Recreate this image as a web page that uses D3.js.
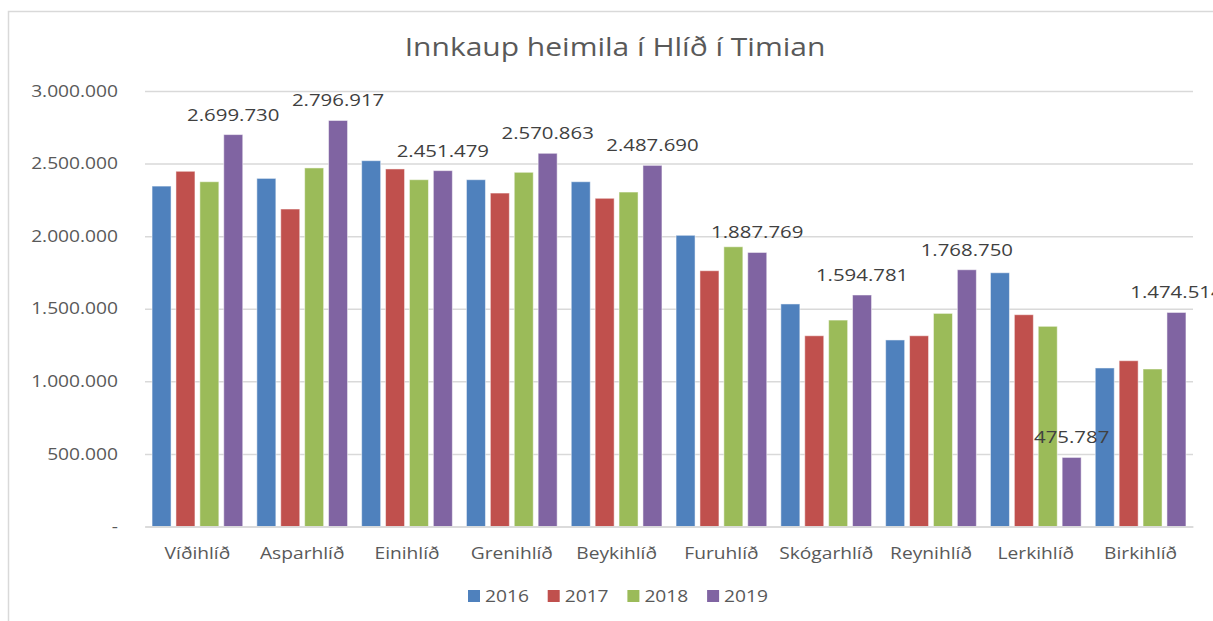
<!DOCTYPE html>
<html>
<head>
<meta charset="utf-8">
<script src="https://cdn.jsdelivr.net/npm/d3@7"></script>
<style>
  html, body { margin: 0; padding: 0; background: #fff; }
  svg { display: block; }
  text { font-family: "Open Sans", "DejaVu Sans", sans-serif; }
</style>
</head>
<body>
<svg id="chart" width="1213" height="621"></svg>
<script>
const title = "Innkaup heimila í Hlíð í Timian";
const categories = ["Víðihlíð", "Asparhlíð", "Einihlíð", "Grenihlíð", "Beykihlíð", "Furuhlíð", "Skógarhlíð", "Reynihlíð", "Lerkihlíð", "Birkihlíð"];
const years = ["2016", "2017", "2018", "2019"];
const values2016 = [2345000, 2398000, 2520000, 2389000, 2375000, 2006000, 1533000, 1285000, 1748000, 1092000];
const values2017 = [2447000, 2187000, 2463000, 2297000, 2261000, 1762000, 1314000, 1314000, 1459000, 1142000];
const values2018 = [2375000, 2470000, 2389000, 2440000, 2304000, 1927000, 1422000, 1468000, 1379000, 1085000];
const values2019 = [2699730, 2796917, 2451479, 2570863, 2487690, 1887769, 1594781, 1768750, 475787, 1474514];
const yTicks = [0, 500000, 1000000, 1500000, 2000000, 2500000, 3000000];
const yTickLabels = ["-", "500.000", "1.000.000", "1.500.000", "2.000.000", "2.500.000", "3.000.000"];
const colors = ["#4f81bd", "#c0504d", "#9bbb59", "#8064a2"];

const seriesValues = [values2016, values2017, values2018, values2019];
const rows = categories.map((c, i) => ({cat: c, vals: years.map((y, j) => ({year: y, idx: j, v: seriesValues[j][i]}))}));

const SX = 1.2; // horizontal stretch of the reference's text
const svg = d3.select("#chart");
const m = {left: 145, top: 91};
const plotW = 1193 - m.left;
const plotH = 526.5 - m.top;

// chart border
svg.append("rect").attr("x", 8.5).attr("y", 11.5).attr("width", 1300).attr("height", 700)
  .attr("fill", "none").attr("stroke", "#d9d9d9").attr("stroke-width", 1.5);

svg.append("text").attr("transform", `translate(615,56) scale(${SX},1)`).attr("text-anchor", "middle")
  .attr("font-size", 25).attr("fill", "#595959").text(title);

const g = svg.append("g").attr("transform", `translate(${m.left},${m.top})`);

const x0 = d3.scaleBand().domain(categories).range([0, plotW]).paddingInner(0).paddingOuter(0);
const x1 = d3.scaleBand().domain(years).range([0, x0.bandwidth()]).paddingInner(0.205).paddingOuter(0.295);
const y = d3.scaleLinear().domain([0, 3000000]).range([plotH, 0]);
const color = d3.scaleOrdinal().domain(years).range(colors);

// gridlines + y labels
const yAxis = d3.axisLeft(y).tickValues(yTicks).tickSize(-plotW).tickPadding(27)
  .tickFormat((d, i) => yTickLabels[i]);
const ya = g.append("g").call(yAxis);
ya.select(".domain").remove();
ya.selectAll(".tick line").attr("stroke", "#d9d9d9").attr("stroke-width", 1.5);
ya.selectAll(".tick text").attr("font-size", 16).attr("fill", "#595959")
  .style("font-family", "'Open Sans', sans-serif")
  .attr("x", 0).attr("transform", `translate(-27,0) scale(${SX},1)`);

// bars
const groups = g.selectAll("g.grp").data(rows).join("g").attr("class", "grp")
  .attr("transform", d => `translate(${x0(d.cat)},0)`);
groups.selectAll("rect").data(d => d.vals).join("rect")
  .attr("x", d => x1(d.year))
  .attr("width", x1.bandwidth())
  .attr("y", d => y(d.v))
  .attr("height", d => y(0) - y(d.v))
  .attr("fill", d => color(d.year))
  .attr("stroke", "#ffffff").attr("stroke-opacity", 0.5).attr("stroke-width", 1);

// data labels for 2019 (separate layer on top)
const labelLayer = g.append("g");
const lblData = rows.map(r => ({cat: r.cat, d: r.vals.find(v => v.year === "2019")}));
labelLayer.selectAll("text").data(lblData).join("text")
  .attr("transform", o => `translate(${x0(o.cat) + x1("2019") + x1.bandwidth() / 2},${y(o.d.v) - 14}) scale(${SX},1)`)
  .attr("text-anchor", "middle").attr("font-size", 17).attr("fill", "#404040")
  .text(o => d3.format(",")(o.d.v).replace(/,/g, "."));

// x axis baseline + category labels
const xa = g.append("g").attr("transform", `translate(0,${plotH})`)
  .call(d3.axisBottom(x0).tickSize(0).tickPadding(21));
xa.select(".domain").attr("stroke", "#d9d9d9").attr("stroke-width", 1.5);
xa.selectAll(".tick text").attr("font-size", 16).attr("fill", "#595959")
  .style("font-family", "'Open Sans', sans-serif")
  .attr("y", 0).attr("transform", `translate(0,21) scale(${SX},1)`);

// legend
const legend = svg.append("g").attr("transform", "translate(468,596)");
const li = legend.selectAll("g").data(years).join("g")
  .attr("transform", (d, i) => `translate(${i * 79.7},0)`);
li.append("rect").attr("x", 0).attr("y", -6).attr("width", 12).attr("height", 12).attr("fill", d => color(d));
li.append("text").attr("transform", `translate(17,6) scale(${SX},1)`).attr("font-size", 16)
  .attr("fill", "#595959").text(d => d);
</script>
</body>
</html>
